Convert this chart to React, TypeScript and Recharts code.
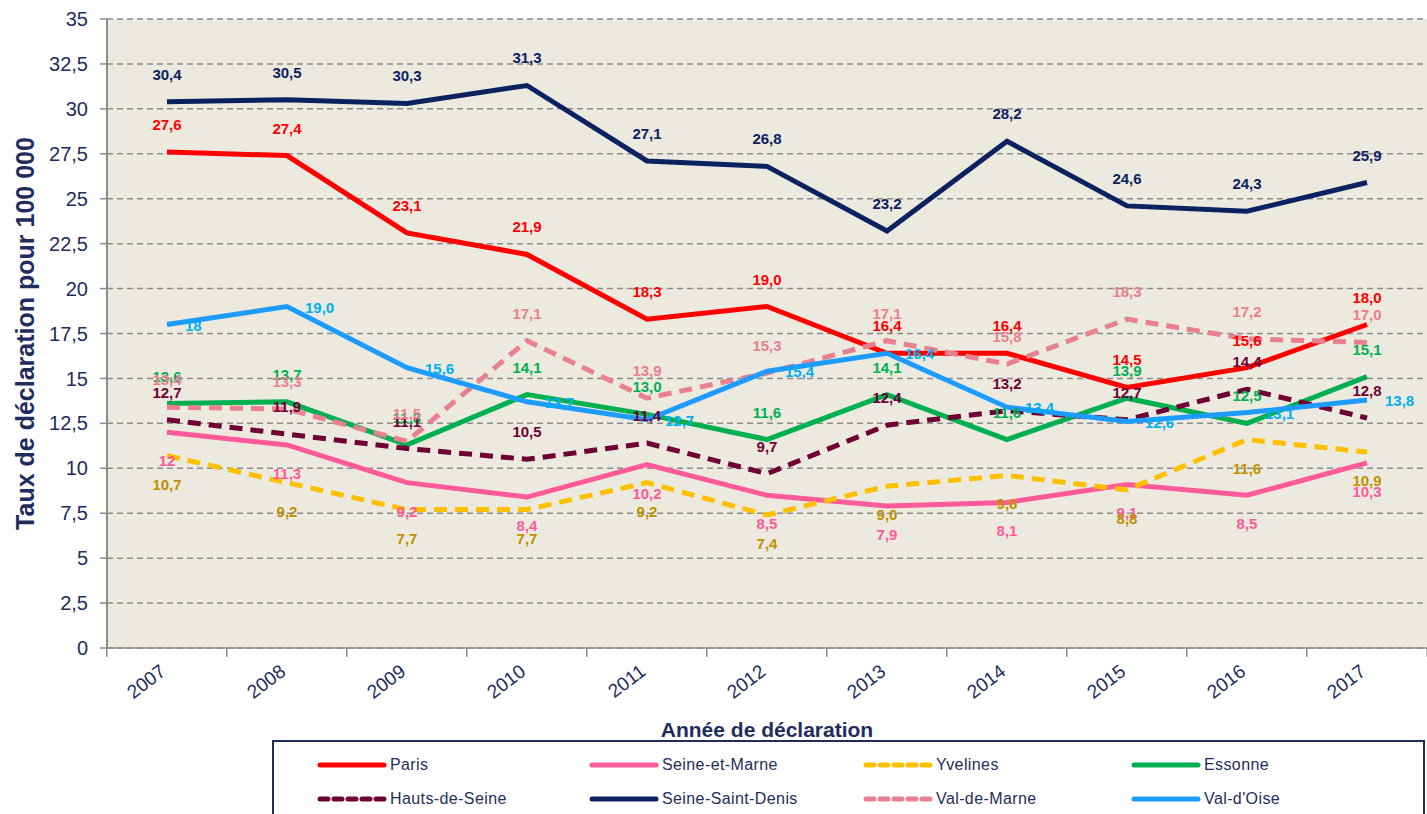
import { LineChart, Line, XAxis, YAxis, CartesianGrid, LabelList } from 'recharts';

const YEARS = ['2007', '2008', '2009', '2010', '2011', '2012', '2013', '2014', '2015', '2016', '2017'];

const PARIS = [27.6, 27.4, 23.1, 21.9, 18.3, 19.0, 16.4, 16.4, 14.5, 15.6, 18.0];
const SEINE_ET_MARNE = [12, 11.3, 9.2, 8.4, 10.2, 8.5, 7.9, 8.1, 9.1, 8.5, 10.3];
const YVELINES = [10.7, 9.2, 7.7, 7.7, 9.2, 7.4, 9.0, 9.6, 8.8, 11.6, 10.9];
const ESSONNE = [13.6, 13.7, 11.3, 14.1, 13.0, 11.6, 14.1, 11.6, 13.9, 12.5, 15.1];
const HAUTS_DE_SEINE = [12.7, 11.9, 11.1, 10.5, 11.4, 9.7, 12.4, 13.2, 12.7, 14.4, 12.8];
const SEINE_SAINT_DENIS = [30.4, 30.5, 30.3, 31.3, 27.1, 26.8, 23.2, 28.2, 24.6, 24.3, 25.9];
const VAL_DE_MARNE = [13.4, 13.3, 11.5, 17.1, 13.9, 15.3, 17.1, 15.8, 18.3, 17.2, 17.0];
const VAL_D_OISE = [18, 19.0, 15.6, 13.7, 12.7, 15.4, 16.4, 13.4, 12.6, 13.1, 13.8];

const Y_TICKS = [0, 2.5, 5, 7.5, 10, 12.5, 15, 17.5, 20, 22.5, 25, 27.5, 30, 32.5, 35];

// values shown without decimal in the original labels
const RAW_LABELS = new Set(['seineMarne-0', 'valOise-0']);

const NAVY = '#1F2D5C';
const FONT = 'Liberation Sans, Arial, sans-serif';

type Series = {
  key: string;
  name: string;
  values: number[];
  color: string;
  labelColor: string;
  dash?: string;
  place: 'above' | 'below' | 'right';
};

const SERIES: Series[] = [
  { key: 'paris', name: 'Paris', values: PARIS, color: '#FF0000', labelColor: '#FF0000', place: 'above' },
  { key: 'seineMarne', name: 'Seine-et-Marne', values: SEINE_ET_MARNE, color: '#FF5A9A', labelColor: '#FF5A9A', place: 'below' },
  { key: 'yvelines', name: 'Yvelines', values: YVELINES, color: '#FFC000', labelColor: '#BF9000', dash: '13 8', place: 'below' },
  { key: 'essonne', name: 'Essonne', values: ESSONNE, color: '#00B050', labelColor: '#00B050', place: 'above' },
  { key: 'hautsSeine', name: 'Hauts-de-Seine', values: HAUTS_DE_SEINE, color: '#6E0033', labelColor: '#6E0033', dash: '13 8', place: 'above' },
  { key: 'ssd', name: 'Seine-Saint-Denis', values: SEINE_SAINT_DENIS, color: '#0B2160', labelColor: '#0B2160', place: 'above' },
  { key: 'valMarne', name: 'Val-de-Marne', values: VAL_DE_MARNE, color: '#E8808F', labelColor: '#E8808F', dash: '13 8', place: 'above' },
  { key: 'valOise', name: "Val-d'Oise", values: VAL_D_OISE, color: '#1E9BFF', labelColor: '#00B0F0', place: 'right' },
];

const data = YEARS.map((year, i) => {
  const row: Record<string, string | number> = { year };
  SERIES.forEach((s) => {
    row[s.key] = s.values[i];
  });
  return row;
});

const fmt = (v: number) => String(v).replace('.', ',');
const fmt1 = (v: number) => v.toFixed(1).replace('.', ',');

const makeLabel = (s: Series) => (props: any) => {
  const { x, y, value, index } = props;
  const text = RAW_LABELS.has(`${s.key}-${index}`) ? fmt(value) : fmt1(value);
  let dx = 0;
  let dy = -22;
  let anchor: 'middle' | 'start' = 'middle';
  if (s.place === 'below') dy = 34;
  if (s.place === 'right') {
    dx = 18;
    dy = 6;
    anchor = 'start';
  }
  return (
    <text x={x + dx} y={y + dy} textAnchor={anchor} fill={s.labelColor} fontSize={15} fontWeight="bold" fontFamily={FONT}>
      {text}
    </text>
  );
};

const XTick = (props: any) => {
  const { x, y, payload, index } = props;
  const half = 60.2;
  return (
    <g>
      <line x1={x - half} y1={y - 8} x2={x - half} y2={y + 1} stroke="#8C8C8C" strokeWidth={1.5} />
      {index === YEARS.length - 1 && (
        <line x1={x + half} y1={y - 8} x2={x + half} y2={y + 1} stroke="#8C8C8C" strokeWidth={1.5} />
      )}
      <text
        x={x}
        y={y + 18}
        textAnchor="end"
        transform={`rotate(-37 ${x} ${y + 18})`}
        fill={NAVY}
        fontSize={19}
        fontFamily={FONT}
      >
        {payload.value}
      </text>
    </g>
  );
};

const LegendBox = () => (
  <div
    style={{
      position: 'absolute',
      left: 272,
      top: 740,
      border: `2px solid ${NAVY}`,
      width: 1153,
      height: 90,
      boxSizing: 'border-box',
      display: 'grid',
      gridTemplateColumns: '272px 274px 268px 300px',
      gridTemplateRows: '34px 34px',
      paddingLeft: 42,
      paddingTop: 6,
      fontFamily: FONT,
      fontSize: 16,
      letterSpacing: 0.4,
      color: NAVY,
      background: '#fff',
    }}
  >
    {SERIES.map((s) => (
      <div key={s.key} style={{ display: 'flex', alignItems: 'center' }}>
        <svg width={72} height={10} style={{ marginRight: 2 }}>
          <line
            x1={4}
            y1={5}
            x2={68}
            y2={5}
            stroke={s.color}
            strokeWidth={5}
            strokeDasharray={s.dash ? '8 6' : undefined}
            strokeLinecap="round"
          />
        </svg>
        <span>{s.name}</span>
      </div>
    ))}
  </div>
);

export default function App() {
  return (
    <div style={{ position: 'absolute', left: 0, top: 0, width: 1427, height: 814, background: '#fff', overflow: 'hidden' }}>
      <LineChart width={1427} height={814} data={data} margin={{ top: 19, right: 0, bottom: 76, left: 0 }}>
        <CartesianGrid
          horizontal
          vertical={false}
          stroke="#8C8C8C"
          strokeDasharray="6 4"
          strokeWidth={1.5}
          fill="#ECE9DF"
          fillOpacity={1}
        />
        <XAxis
          dataKey="year"
          scale="band"
          height={90}
          tickLine={false}
          axisLine={{ stroke: '#8C8C8C', strokeWidth: 1.5 }}
          tick={<XTick />}
          interval={0}
          label={{
            content: ({ viewBox }: any) => (
              <text
                x={viewBox.x + viewBox.width / 2}
                y={viewBox.y + 89}
                textAnchor="middle"
                fill={NAVY}
                fontSize={21}
                fontWeight="bold"
                fontFamily={FONT}
              >
                Année de déclaration
              </text>
            ),
          }}
        />
        <YAxis
          width={107}
          domain={[0, 35]}
          ticks={Y_TICKS}
          interval={0}
          tickFormatter={fmt}
          axisLine={{ stroke: '#8C8C8C', strokeWidth: 2 }}
          tickLine={{ stroke: '#8C8C8C', strokeWidth: 1.5 }}
          tickSize={7}
          tickMargin={12}
          tick={{ fill: NAVY, fontSize: 20, fontFamily: FONT }}
          label={{
            content: ({ viewBox }: any) => {
              const cy = viewBox.y + viewBox.height / 2;
              return (
                <text
                  x={25}
                  y={cy}
                  textAnchor="middle"
                  dominantBaseline="central"
                  transform={`rotate(-90 25 ${cy})`}
                  fill={NAVY}
                  fontSize={25}
                  fontWeight="bold"
                  fontFamily={FONT}
                >
                  Taux de déclaration pour 100 000
                </text>
              );
            },
          }}
        />
        {SERIES.map((s) => (
          <Line
            key={s.key}
            dataKey={s.key}
            name={s.name}
            type="linear"
            stroke={s.color}
            strokeWidth={5}
            strokeDasharray={s.dash}
            dot={false}
            activeDot={false}
            isAnimationActive={false}
          >
            <LabelList dataKey={s.key} content={makeLabel(s)} />
          </Line>
        ))}
      </LineChart>
      <LegendBox />
    </div>
  );
}
